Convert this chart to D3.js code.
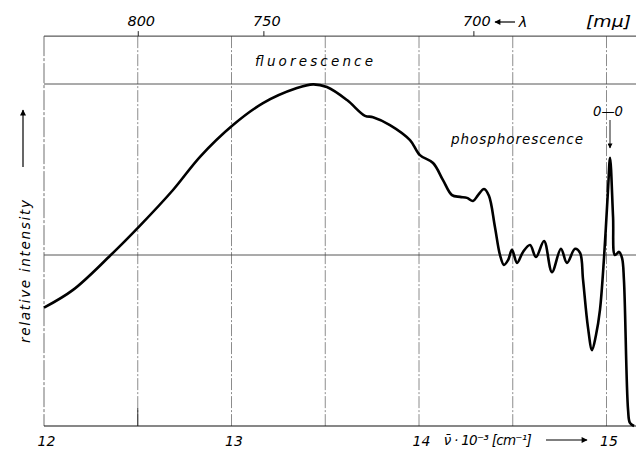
<!DOCTYPE html>
<html><head><meta charset="utf-8">
<script src="https://cdn.jsdelivr.net/npm/d3@7"></script>
<style>html,body{margin:0;padding:0;background:#fff;}svg{display:block;}</style>
</head><body>
<svg id="chart" width="636" height="449"></svg>
<script>
// ---- data ----
const wavenumber = [12.000,12.155,12.347,12.507,12.688,12.832,13.008,13.168,13.349,13.435,13.509,13.616,13.712,13.755,13.845,13.952,14.005,14.075,14.128,14.176,14.219,14.256,14.288,14.315,14.347,14.373,14.405,14.432,14.453,14.475,14.496,14.523,14.555,14.592,14.624,14.667,14.709,14.757,14.789,14.832,14.859,14.875,14.901,14.923,14.944,14.965,14.987,15.008,15.019,15.035,15.045,15.067,15.083,15.093,15.115,15.125,15.147];
const intensity  = [0.346,0.398,0.495,0.583,0.690,0.787,0.880,0.944,0.988,0.999,0.991,0.953,0.907,0.903,0.880,0.836,0.792,0.769,0.719,0.675,0.670,0.667,0.658,0.675,0.693,0.673,0.582,0.500,0.471,0.485,0.515,0.477,0.509,0.529,0.494,0.541,0.450,0.518,0.477,0.518,0.506,0.427,0.289,0.222,0.266,0.339,0.494,0.690,0.784,0.611,0.500,0.509,0.491,0.427,0.047,0.009,0.000];
const bottomTicks = [12, 13, 14, 15];
const gridX = [12.5, 13, 13.5, 14, 14.5, 15];
const gridY = [0.5, 1.0];
const topLabels = ["800", "750", "700"];
const topTickAt = [12.5, 13.17, 14.29];
const yTop = 1.14;

// ---- layout ----
const svg = d3.select("#chart");
const x = d3.scaleLinear().domain([12, 15]).range([44, 606.5]);
const y = d3.scaleLinear().domain([0, 1]).range([426, 84]);
const xEnd = 636;
const font = "'DejaVu Sans', sans-serif";

// grid lines
svg.append("g").selectAll("line").data(gridX).join("line")
  .attr("x1", d => x(d)).attr("x2", d => x(d))
  .attr("y1", y(yTop)).attr("y2", y(0))
  .attr("stroke", "#666").attr("stroke-width", 0.75)
  .attr("stroke-dasharray", "12,2,2,2");
svg.append("g").selectAll("line").data(gridY).join("line")
  .attr("x1", x(12)).attr("x2", xEnd)
  .attr("y1", d => y(d)).attr("y2", d => y(d))
  .attr("stroke", "#444").attr("stroke-width", 0.9);
// frame: top, left, bottom
svg.append("line").attr("x1", x(12)).attr("x2", xEnd).attr("y1", y(yTop)).attr("y2", y(yTop))
  .attr("stroke", "#333").attr("stroke-width", 1);
svg.append("line").attr("x1", x(12)).attr("x2", x(12)).attr("y1", y(yTop)).attr("y2", y(0))
  .attr("stroke", "#555").attr("stroke-width", 0.85).attr("stroke-dasharray", "20,2,3,2");

// bottom axis
const bottomAxis = d3.axisBottom(x).tickValues(bottomTicks).tickFormat(d3.format("d"))
  .tickSizeInner(0).tickSizeOuter(0).tickPadding(10);
const gb = svg.append("g").attr("transform", `translate(0,${y(0)})`).call(bottomAxis);
gb.select(".domain").remove();
gb.selectAll("text").attr("font-family", font).attr("font-style", "italic")
  .attr("font-size", 14).attr("fill", "#000").attr("dx", 2);
svg.append("line").attr("x1", x(12)).attr("x2", xEnd).attr("y1", y(0)).attr("y2", y(0))
  .attr("stroke", "#111").attr("stroke-width", 1.2);
// small tick at 12.5 on bottom
svg.append("line").attr("x1", x(12.5)).attr("x2", x(12.5)).attr("y1", y(0) - 18).attr("y2", y(0))
  .attr("stroke", "#222").attr("stroke-width", 0.9);

// top axis (wavelength)
const topAxis = d3.axisTop(x).tickValues(topTickAt)
  .tickFormat((d, i) => topLabels[i]).tickSizeInner(5).tickSizeOuter(0).tickPadding(5);
const gt = svg.append("g").attr("transform", `translate(0,${y(yTop)})`).call(topAxis);
gt.select(".domain").remove();
gt.selectAll("line").attr("stroke", "#222");
gt.selectAll("text").attr("font-family", font).attr("font-style", "italic")
  .attr("font-size", 14.5).attr("fill", "#000").attr("dx", 3);

// curve
const line = d3.line().x(d => x(d[0])).y(d => y(d[1])).curve(d3.curveCatmullRom.alpha(0.5));
svg.append("path").datum(wavenumber.map((k, i) => [k, intensity[i]]))
  .attr("d", line).attr("fill", "none").attr("stroke", "#000")
  .attr("stroke-width", 2.6).attr("stroke-linejoin", "round");

// arrowheads
const defs = svg.append("defs");
defs.append("marker").attr("id", "ah").attr("viewBox", "0 0 10 10").attr("refX", 9).attr("refY", 5)
  .attr("markerWidth", 10).attr("markerHeight", 6).attr("markerUnits", "userSpaceOnUse")
  .attr("orient", "auto").append("path").attr("d", "M0,0 L10,5 L0,10 Z").attr("fill", "#000");
defs.append("marker").attr("id", "ahs").attr("viewBox", "0 0 10 10").attr("refX", 9).attr("refY", 5)
  .attr("markerWidth", 6).attr("markerHeight", 5).attr("markerUnits", "userSpaceOnUse")
  .attr("orient", "auto").append("path").attr("d", "M0,0 L10,5 L0,10 Z").attr("fill", "#000");

function txt(s, px, py, opts = {}) {
  const t = svg.append("text").attr("x", px).attr("y", py).text(s)
    .attr("font-family", font).attr("font-style", "italic")
    .attr("font-size", opts.size || 13).attr("fill", "#000");
  if (opts.len) t.attr("textLength", opts.len).attr("lengthAdjust", opts.adj || "spacing");
  if (opts.anchor) t.attr("text-anchor", opts.anchor);
  if (opts.rotate) t.attr("transform", `rotate(${opts.rotate},${px},${py})`);
  return t;
}

// top right: arrow lambda [mμ]
svg.append("line").attr("x1", 515).attr("x2", 495).attr("y1", 22).attr("y2", 22)
  .attr("stroke", "#000").attr("stroke-width", 1.2).attr("marker-end", "url(#ah)");
txt("λ", 523, 27, {size: 14.5, anchor: "middle"});
txt("[mμ]", 586, 27, {size: 15, len: 45, adj: "spacingAndGlyphs"});

// labels
txt("fluorescence", 255, 66, {size: 13.5, len: 118});
txt("phosphorescence", 451, 144, {size: 13.5, len: 132});
txt("0—0", 593, 116, {size: 14.5, len: 30, adj: "spacingAndGlyphs"});
svg.append("line").attr("x1", 610).attr("x2", 610).attr("y1", 120).attr("y2", 148)
  .attr("stroke", "#000").attr("stroke-width", 0.9).attr("marker-end", "url(#ahs)");

// y label
txt("relative intensity", 30, 343, {size: 13.5, len: 143, rotate: -90});
svg.append("line").attr("x1", 23).attr("x2", 23).attr("y1", 167).attr("y2", 110)
  .attr("stroke", "#000").attr("stroke-width", 1.2).attr("marker-end", "url(#ah)");

// x caption
txt("ν̄ · 10⁻³ [cm⁻¹]", 443, 445, {size: 13.5, len: 88});
svg.append("line").attr("x1", 546).attr("x2", 587).attr("y1", 440).attr("y2", 440)
  .attr("stroke", "#000").attr("stroke-width", 1.2).attr("marker-end", "url(#ah)");
</script>
</body></html>
